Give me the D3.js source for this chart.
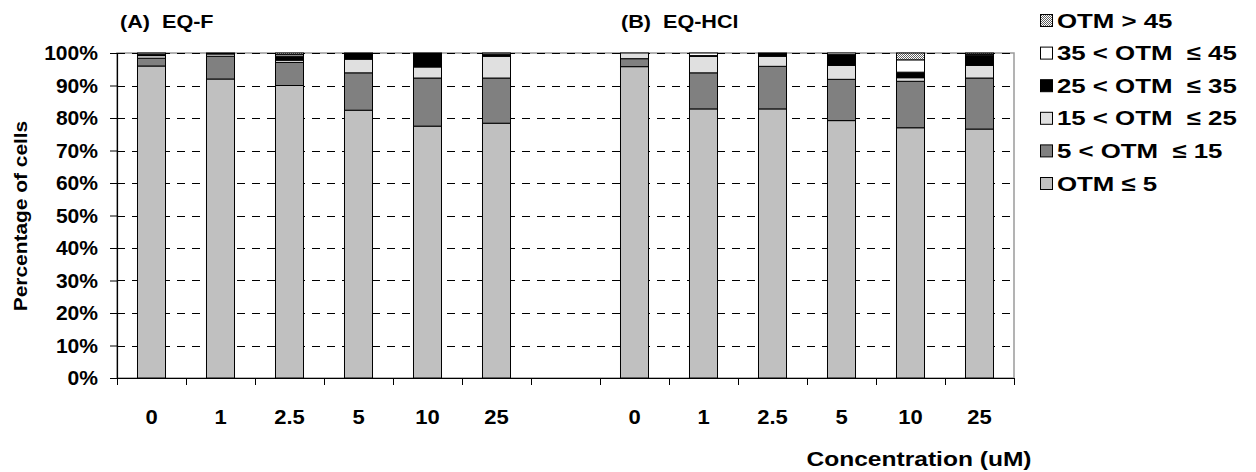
<!DOCTYPE html>
<html><head><meta charset="utf-8">
<script src="https://cdn.jsdelivr.net/npm/d3@7"></script>
<style>
body{margin:0;background:#fff;}
text{font-family:"Liberation Sans",Arial,sans-serif;font-weight:bold;fill:#000;white-space:pre;}
</style></head>
<body><svg id="c" width="1256" height="472"></svg>
<script>
// ---- data ----
const categories = ["0","1","2.5","5","10","25"];
const groups = ["(A)  EQ-F","(B)  EQ-HCl"];
const seriesNames = ["OTM \u2264 5","5 < OTM  \u2264 15","15 < OTM  \u2264 25","25 < OTM  \u2264 35","35 < OTM  \u2264 45","OTM > 45"];
// 12 values each: 6 for panel A then 6 for panel B
const otmLe5   = [96, 92, 90, 82.4, 77.5, 78.4, 95.8, 82.8, 82.8, 79.2, 77, 76.6];
const otm5to15 = [2.4, 7, 7.1, 11.5, 14.8, 13.9, 2.45, 11.1, 13.1, 12.7, 14.3, 15.7];
const otm15to25= [0.8, 0.7, 0.7, 4.2, 3.4, 6.7, 1.75, 5.1, 3.1, 4.3, 1.1, 3.9];
const otm25to35= [0.4, 0, 1.2, 1.9, 4.3, 0.6, 0, 0.2, 1.0, 3.3, 1.7, 3.1];
const otm35to45= [0.4, 0.3, 0.5, 0, 0, 0.4, 0, 0.8, 0, 0.5, 3.8, 0.3];
const otmGt45  = [0, 0, 0.5, 0, 0, 0, 0, 0, 0, 0, 2.1, 0.4];
const yTicks = [0,10,20,30,40,50,60,70,80,90,100];

const svg = d3.select("#c");
const defs = svg.append("defs");
const pat = defs.append("pattern").attr("id","hatch").attr("width",2).attr("height",2).attr("patternUnits","userSpaceOnUse");
pat.append("rect").attr("width",2).attr("height",2).attr("fill","#ffffff");
pat.append("rect").attr("width",1).attr("height",1).attr("fill","#606060");
pat.append("rect").attr("x",1).attr("y",1).attr("width",1).attr("height",1).attr("fill","#606060");
const fills = ["#c0c0c0","#808080","#e0e0e0","#000000","#ffffff","url(#hatch)"];

const keys = [];
categories.forEach(c=>keys.push("A|"+c));
keys.push("gap");
categories.forEach(c=>keys.push("B|"+c));
const rows = keys.filter(k=>k!=="gap").map((k,i)=>({key:k,
  s0:otmLe5[i], s1:otm5to15[i], s2:otm15to25[i], s3:otm25to35[i], s4:otm35to45[i], s5:otmGt45[i]}));
const stack = d3.stack().keys(["s0","s1","s2","s3","s4","s5"])(rows);

const L=117,R=1014,T=53,B=378;
const x = d3.scaleBand().domain(keys).range([L,R]).paddingInner(0.594).paddingOuter(0.297);
const y = d3.scaleLinear().domain([0,100]).range([B,T]);

function txt(g,xx,yy,s,anchor,fs,sx,rot){
  return g.append("text").attr("transform",`translate(${xx},${yy})`+(rot?` rotate(${rot})`:"")+` scale(${sx},1)`)
   .attr("text-anchor",anchor||"start").style("font-size",fs+"px").text(s);
}

// plot border (gray)
svg.append("rect").attr("x",L).attr("y",T).attr("width",R-L).attr("height",B-T).attr("fill","none").attr("stroke","#9a9a9a").attr("stroke-width",1.5);
// gridlines
svg.append("g").selectAll("line").data(yTicks.filter(d=>d>0)).join("line")
  .attr("x1",L).attr("x2",R).attr("y1",d=>Math.round(y(d))+0.5).attr("y2",d=>Math.round(y(d))+0.5)
  .attr("stroke","#000").attr("stroke-width",1).attr("stroke-dasharray","8,7");

// bars
svg.append("g").selectAll("g").data(stack).join("g").attr("fill",(d,i)=>fills[i])
 .selectAll("rect").data(d=>d.filter(p=>p[1]-p[0]>0)).join("rect")
 .attr("x",d=>x(d.data.key)).attr("width",x.bandwidth())
 .attr("y",d=>y(d[1])).attr("height",d=>y(d[0])-y(d[1]))
 .attr("stroke","#000").attr("stroke-width",1);

// y axis
const ya = svg.append("g").attr("transform",`translate(${L},0)`)
  .call(d3.axisLeft(y).tickValues(yTicks).tickSize(7).tickFormat(d=>""));
ya.select(".domain").attr("stroke","#000").attr("stroke-width",1.2);
ya.selectAll(".tick line").attr("stroke","#000");
yTicks.forEach(v=>txt(svg,98,y(v)+7,v+"%","end",19.5,1.08));

// x axis
const step = x.step();
const bounds = keys.map(k=>x(k)-step*0.297).concat([R]);
svg.append("line").attr("x1",L).attr("x2",R).attr("y1",B+0.5).attr("y2",B+0.5).attr("stroke","#000").attr("stroke-width",1.2);
svg.append("g").selectAll("line").data(bounds).join("line")
  .attr("x1",d=>Math.round(d)+0.5).attr("x2",d=>Math.round(d)+0.5).attr("y1",B).attr("y2",B+7).attr("stroke","#000");
keys.filter(k=>k!=="gap").forEach(k=>txt(svg,x(k)+x.bandwidth()/2,424,k.split("|")[1],"middle",20,1.1));

// titles
txt(svg,919,466,"Concentration (uM)","middle",21,1.17);
txt(svg,27,216,"Percentage of cells","middle",19,1.1,-90);
txt(svg,120,28,groups[0],"start",18,1.2);
txt(svg,621,28,groups[1],"start",18,1.2);

// legend
const lg = svg.append("g");
for(let i=5;i>=0;i--){
  const yy = 14 + (5-i)*32.6;
  lg.append("rect").attr("x",1040.5).attr("y",yy+0.5).attr("width",12).attr("height",12).attr("fill",fills[i]).attr("stroke","#000");
  txt(lg,1057,yy+13.5,seriesNames[i],"start",21,1.23);
}
</script></body></html>
